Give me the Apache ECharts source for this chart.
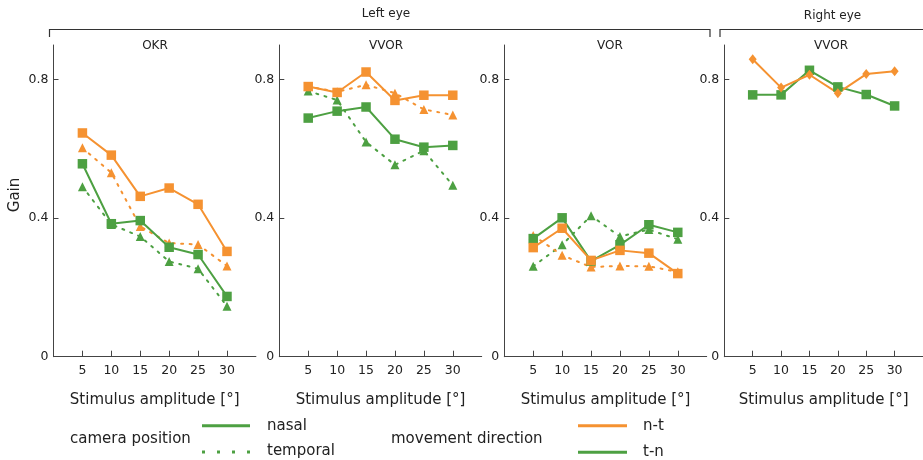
<!DOCTYPE html>
<html>
<head>
<meta charset="utf-8">
<script src="https://cdn.jsdelivr.net/npm/echarts@6/dist/echarts.min.js"></script>
<style>
html,body{margin:0;padding:0;background:#fff;}
#c{width:923px;height:460px;}
</style>
</head>
<body>
<div id="c"></div>
<script>
// ---- data ----
const amplitudes = [5, 10, 15, 20, 25, 30];
const yTicks = [0, 0.4, 0.8];
const panelTitles = ['OKR', 'VVOR', 'VOR', 'VVOR'];
const groupTitles = ['Left eye', 'Right eye'];
const xAxisTitle = 'Stimulus amplitude [°]';
const yAxisTitle = 'Gain';

// OKR (left eye)
const okrNasalNT    = [0.646, 0.582, 0.463, 0.487, 0.440, 0.304];
const okrTemporalNT = [0.603, 0.531, 0.376, 0.328, 0.324, 0.262];
const okrNasalTN    = [0.557, 0.384, 0.393, 0.316, 0.295, 0.174];
const okrTemporalTN = [0.491, 0.382, 0.347, 0.275, 0.254, 0.146];
// VVOR (left eye)
const vvorLNasalNT    = [0.780, 0.763, 0.822, 0.740, 0.755, 0.755];
const vvorLTemporalNT = [0.780, 0.765, 0.785, 0.761, 0.714, 0.698];
const vvorLNasalTN    = [0.689, 0.709, 0.721, 0.628, 0.605, 0.610];
const vvorLTemporalTN = [0.767, 0.741, 0.620, 0.554, 0.595, 0.495];
// VOR (left eye)
const vorNasalNT    = [0.315, 0.371, 0.278, 0.307, 0.299, 0.240];
const vorTemporalNT = [0.350, 0.293, 0.259, 0.262, 0.261, 0.245];
const vorNasalTN    = [0.341, 0.401, 0.276, 0.323, 0.381, 0.359];
const vorTemporalTN = [0.261, 0.323, 0.407, 0.347, 0.367, 0.339];
// VVOR (right eye)
const vvorRNT = [0.859, 0.777, 0.814, 0.761, 0.816, 0.824];
const vvorRTN = [0.756, 0.756, 0.827, 0.779, 0.757, 0.724];

const legendCamera = ['camera position', 'nasal', 'temporal'];
const legendDirection = ['movement direction', 'n-t', 't-n'];

// ---- styling ----
const ORANGE = '#F59231';
const GREEN = '#4DA042';
const AXIS = '#444';
const TXT = '#222';
const FONT = 'DejaVu Sans';
const DOT = [2, 6.5];

const gridLefts = [53.5, 279.3, 504.3, 724.3];
const gridW = 202.4, gridTop = 45, gridH = 311.7;

const chart = echarts.init(document.getElementById('c'), null, {renderer: 'canvas'});

const pair = arr => amplitudes.map((x, i) => [x, arr[i]]);

const grids = [], xAxes = [], yAxes = [], series = [];
gridLefts.forEach((l, i) => {
  grids.push({left: l, top: gridTop, width: gridW, height: gridH, containLabel: false});
  xAxes.push({
    type: 'value', gridIndex: i, min: 0, max: 35, interval: 5,
    name: xAxisTitle, nameLocation: 'middle', nameGap: 36,
    nameTextStyle: {fontFamily: FONT, fontSize: 15, color: TXT},
    axisLine: {show: true, onZero: false, lineStyle: {color: AXIS, width: 1}},
    axisTick: {show: true, inside: true, length: 6, customValues: amplitudes, lineStyle: {color: AXIS}},
    axisLabel: {customValues: amplitudes, margin: 8, fontFamily: FONT, fontSize: 12.5, color: TXT},
    splitLine: {show: false}
  });
  yAxes.push({
    type: 'value', gridIndex: i, min: 0, max: 0.9, interval: 0.4,
    axisLine: {show: true, lineStyle: {color: AXIS, width: 1}},
    axisTick: {show: true, inside: true, length: 5, customValues: yTicks, lineStyle: {color: AXIS}},
    axisLabel: {customValues: yTicks, margin: 5, fontFamily: FONT, fontSize: 12.5, color: TXT},
    splitLine: {show: false}
  });
});

function mk(idx, data, color, symbol, dotted, size) {
  return {
    type: 'line', xAxisIndex: idx, yAxisIndex: idx, data: pair(data),
    symbol: symbol, symbolSize: size, showSymbol: true,
    lineStyle: {color: color, width: 2, type: dotted ? DOT : 'solid', cap: 'round'},
    itemStyle: {color: color, opacity: 1},
    animation: false, silent: true
  };
}

const leftSets = [
  [okrNasalNT, okrTemporalNT, okrNasalTN, okrTemporalTN],
  [vvorLNasalNT, vvorLTemporalNT, vvorLNasalTN, vvorLTemporalTN],
  [vorNasalNT, vorTemporalNT, vorNasalTN, vorTemporalTN]
];
leftSets.forEach((s, i) => {
  series.push(mk(i, s[3], GREEN, 'triangle', true, 9));
  series.push(mk(i, s[1], ORANGE, 'triangle', true, 9));
  series.push(mk(i, s[2], GREEN, 'rect', false, 9.5));
  series.push(mk(i, s[0], ORANGE, 'rect', false, 9.5));
});
series.push(mk(3, vvorRTN, GREEN, 'rect', false, 9.5));
series.push(mk(3, vvorRNT, ORANGE, 'diamond', false, [8, 10]));

const titleCenters = [155, 386, 610, 831];
const g = [];
// group brackets
const bracketStyle = {stroke: '#333', lineWidth: 1.2};
g.push({type: 'polyline', shape: {points: [[49.5, 37], [49.5, 29.5], [710, 29.5], [710, 37]]}, style: Object.assign({fill: null}, bracketStyle)});
g.push({type: 'polyline', shape: {points: [[720, 37], [720, 29.5], [930, 29.5]]}, style: Object.assign({fill: null}, bracketStyle)});
g.push({type: 'text', x: 386, y: 13.5, style: {text: groupTitles[0], fontFamily: FONT, fontSize: 12, fill: TXT, align: 'center', verticalAlign: 'middle'}});
g.push({type: 'text', x: 832.5, y: 15.5, style: {text: groupTitles[1], fontFamily: FONT, fontSize: 12, fill: TXT, align: 'center', verticalAlign: 'middle'}});
panelTitles.forEach((t, i) => {
  g.push({type: 'text', x: titleCenters[i], y: 46, style: {text: t, fontFamily: FONT, fontSize: 12, fill: TXT, align: 'center', verticalAlign: 'middle'}});
});
// y axis title
g.push({type: 'text', x: 15, y: 195, rotation: Math.PI / 2, style: {text: yAxisTitle, fontFamily: FONT, fontSize: 15, fill: TXT, align: 'center', verticalAlign: 'middle'}});
// legend
const legTxt = (t, x, y, al) => ({type: 'text', x: x, y: y, style: {text: t, fontFamily: FONT, fontSize: 15, fill: TXT, align: al || 'left', verticalAlign: 'middle'}});
g.push(legTxt(legendCamera[0], 70, 439));
g.push({type: 'line', shape: {x1: 202, y1: 425.7, x2: 250, y2: 425.7}, style: {stroke: GREEN, lineWidth: 3}});
g.push(legTxt(legendCamera[1], 267, 426));
g.push({type: 'line', shape: {x1: 202, y1: 452, x2: 250, y2: 452}, style: {stroke: GREEN, lineWidth: 3, lineDash: [3, 12]}});
g.push(legTxt(legendCamera[2], 267, 451));
g.push(legTxt(legendDirection[0], 391, 439));
g.push({type: 'line', shape: {x1: 578, y1: 425.7, x2: 627, y2: 425.7}, style: {stroke: ORANGE, lineWidth: 3}});
g.push(legTxt(legendDirection[1], 643, 426));
g.push({type: 'line', shape: {x1: 578, y1: 452.3, x2: 627, y2: 452.3}, style: {stroke: GREEN, lineWidth: 3}});
g.push(legTxt(legendDirection[2], 643, 452));

chart.setOption({
  backgroundColor: '#fff',
  animation: false,
  grid: grids,
  xAxis: xAxes,
  yAxis: yAxes,
  series: series,
  graphic: {elements: g}
});
</script>
</body>
</html>
